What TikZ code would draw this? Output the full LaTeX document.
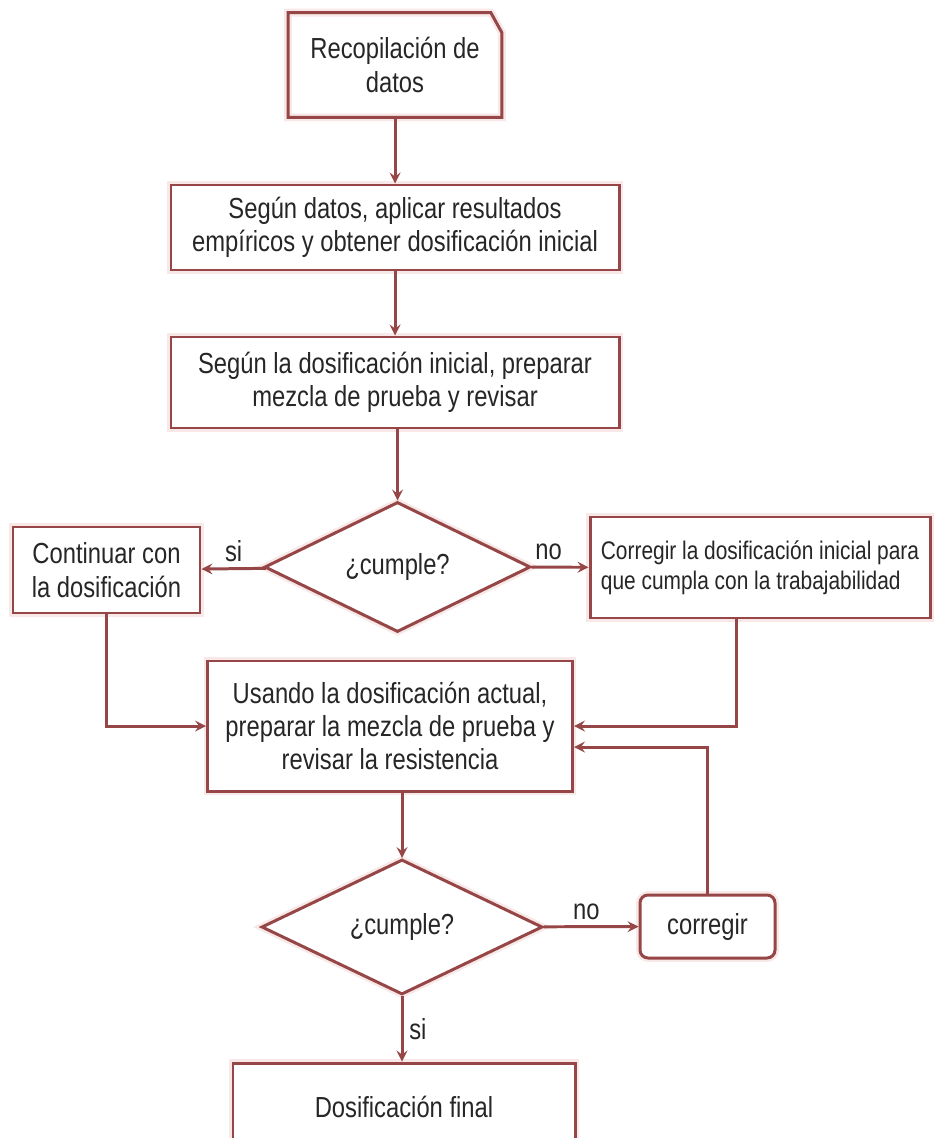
\documentclass[tikz,border=0pt]{standalone}
\usepackage{fontspec}
\setmainfont{Liberation Sans}[FakeStretch=0.82]
\usetikzlibrary{shapes.geometric}
\definecolor{borde}{RGB}{150,70,70}
\definecolor{brillo}{RGB}{248,232,232}

\begin{document}
\begin{tikzpicture}[font=\fontsize{16.5}{19}\selectfont, text=black!85,
  caja/.style={draw=borde, line width=1.7pt, fill=white, align=center, inner sep=2pt,
    preaction={draw=brillo, line width=4.5pt}},
  rombo/.style={caja, diamond, aspect=2},
  flecha/.style={draw=borde, line width=1.7pt, -stealth}]
\useasboundingbox (0,0) rectangle (18.68,-22.76);

\node[align=center, minimum width=4.26cm, minimum height=2.08cm] (rec) at (7.9,-1.30) {Recopilación de\\datos};
\draw[borde, line width=1.7pt, preaction={draw=brillo, line width=4.5pt}] (rec.south west) -- (rec.north west) -- ([xshift=-0.22cm]rec.north east) -- ([yshift=-0.4cm]rec.north east) -- (rec.south east) -- cycle;
\node[caja, minimum width=8.96cm, minimum height=1.70cm] (datos) at (7.9,-4.55) {Según datos, aplicar resultados\\empíricos y obtener dosificación inicial};
\node[caja, minimum width=8.96cm, minimum height=1.82cm] (prueba) at (7.9,-7.65) {Según la dosificación inicial, preparar\\mezcla de prueba y revisar};
\node[rombo, minimum width=5.32cm, minimum height=2.6cm] (cumple1) at (7.95,-11.34) {¿cumple?};
\node[caja, minimum width=3.74cm, minimum height=1.72cm] (continuar) at (2.13,-11.40) {Continuar con\\la dosificación};
\node[caja, align=left, font=\fontsize{14.5}{17}\selectfont, minimum width=6.8cm, minimum height=2.02cm] (corregir1) at (15.2,-11.35) {Corregir la dosificación inicial para\\que cumpla con la trabajabilidad};
\node[caja, minimum width=7.3cm, minimum height=2.6cm] (usando) at (7.8,-14.52) {Usando la dosificación actual,\\preparar la mezcla de prueba y\\revisar la resistencia};
\node[rombo, minimum width=5.62cm, minimum height=2.7cm] (cumple2) at (8.04,-18.54) {¿cumple?};
\node[caja, rounded corners=0.16cm, minimum width=2.7cm, minimum height=1.26cm] (corregir2) at (14.15,-18.53) {corregir};
\node[caja, minimum width=6.84cm, minimum height=1.76cm] (final) at (8.08,-22.14) {Dosificación final};

\draw[flecha] (rec) -- (datos);
\draw[flecha] (datos) -- (prueba);
\draw[flecha] (prueba.south -| cumple1) -- (cumple1);
\draw[flecha] (cumple1) -- node[midway, above] {si} (continuar);
\draw[flecha] (cumple1) -- node[pos=0.3, above] {no} (corregir1);
\draw[flecha] (continuar) |- (usando);
\draw[flecha] ([xshift=-0.48cm]corregir1.south) |- (usando.east);
\draw[flecha] (corregir2) |- ([yshift=-0.42cm]usando.east);
\draw[flecha] (usando.south -| cumple2) -- (cumple2);
\draw[flecha] (cumple2) -- node[pos=0.45, above] {no} (corregir2);
\draw[flecha] (cumple2.south) -- node[midway, right] {si} (cumple2.south |- final.north);
\end{tikzpicture}
\end{document}
